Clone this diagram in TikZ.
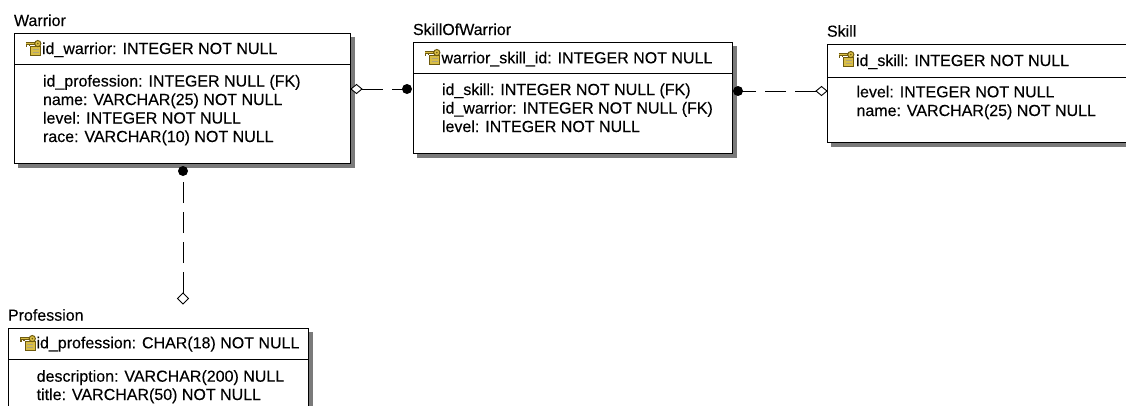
\documentclass[tikz,border=0pt]{standalone}
\usepackage{fontspec}
\setmainfont{Liberation Sans}
\newfontfamily\entfam{Liberation Sans}[FakeBold=0.2]
\definecolor{shadec}{gray}{0.48}
\definecolor{keyy}{HTML}{D9BE45}
\definecolor{keyd}{HTML}{6E5A0E}
\newcommand{\entfont}{\entfam\fontsize{16}{18}\selectfont}
\begin{document}
\begin{tikzpicture}[x=1pt,y=-1pt,
  every node/.style={inner sep=0pt, outer sep=0pt},
  tbl/.style={draw=black, line width=1pt, fill=white, anchor=north west, rectangle},
  ttl/.style={anchor=base west, font=\entfont},
  fld/.style={anchor=base west, font=\entfont},
  conn/.style={line width=1pt, dash pattern=on 21pt off 9pt},
  pkey/.pic={
    \filldraw[fill=keyy, draw=keyd, line width=0.8pt] (5.5,6.5) rectangle (15.5,15);
    \draw[keyd!55, line width=1pt] (7.5,9.5) -- (13.5,9.5) (7.5,12.3) -- (13.5,12.3);
    \draw[keyd, line width=2.4pt] (0.8,3.5) -- (10.5,3.5);
    \draw[keyd, line width=1.6pt] (1.6,3.5) -- (1.6,7.2) (4.3,3.5) -- (4.3,6.3);
    \draw[keyy, line width=0.9pt] (1.2,3.5) -- (10.5,3.5);
    \filldraw[fill=keyy, draw=keyd, line width=1pt] (12.8,3.6) circle (3.1pt);
    \fill[keyd] (12.8,3.6) circle (0.9pt);
  }
]
\useasboundingbox (0,0) rectangle (1126,405);
\begin{scope}
\clip (0,0) rectangle (1126,405);

% shadows
\fill[shadec] (18,37) rectangle (355,168);
\fill[shadec] (417,46) rectangle (737,158);
\fill[shadec] (831,48.5) rectangle (1145,147);
\fill[shadec] (12,332) rectangle (313,440);

% Warrior
\node[ttl] (warriorT) at (14,26) {Warrior};
\node[tbl, minimum width=336pt, minimum height=130pt] (warrior) at (14,33) {};
\draw[line width=1pt] (warrior.west |- 0,64) -- (warrior.east |- 0,64);
\pic at (25,40) {pkey};
\node[fld] (w0) at (42,54) {id\_warrior: INTEGER NOT NULL};
\node[fld] (w1) at (43,86.5) {id\_profession: INTEGER NULL (FK)};
\node[fld] (w2) at (43,105) {name: VARCHAR(25) NOT NULL};
\node[fld] (w3) at (43,123.5) {level: INTEGER NOT NULL};
\node[fld] (w4) at (43,142) {race: VARCHAR(10) NOT NULL};

% SkillOfWarrior
\node[ttl] (sowT) at (413,35) {SkillOfWarrior};
\node[tbl, minimum width=319pt, minimum height=111pt] (sow) at (413,42) {};
\draw[line width=1pt] (sow.west |- 0,73) -- (sow.east |- 0,73);
\pic at (424,49) {pkey};
\node[fld] (s0) at (441.5,63.3) {warrior\_skill\_id: INTEGER NOT NULL};
\node[fld] (s1) at (442,95) {id\_skill: INTEGER NOT NULL (FK)};
\node[fld] (s2) at (442,113.5) {id\_warrior: INTEGER NOT NULL (FK)};
\node[fld] (s3) at (442,132) {level: INTEGER NOT NULL};

% Skill
\node[ttl] (skillT) at (827,36.7) {Skill};
\node[tbl, minimum width=320pt, minimum height=97.5pt] (skill) at (827,44.5) {};
\draw[line width=1pt] (skill.west |- 0,77) -- (skill.east |- 0,77);
\pic at (838,51) {pkey};
\node[fld] (k0) at (856,66) {id\_skill: INTEGER NOT NULL};
\node[fld] (k1) at (856.5,97.3) {level: INTEGER NOT NULL};
\node[fld] (k2) at (856.5,116) {name: VARCHAR(25) NOT NULL};

% Profession
\node[ttl] (profT) at (8,320.7) {Profession};
\node[tbl, minimum width=300pt, minimum height=110pt] (prof) at (8,328) {};
\draw[line width=1pt] (prof.west |- 0,359.3) -- (prof.east |- 0,359.3);
\pic at (19.5,335) {pkey};
\node[fld] (p0) at (36.5,348.3) {id\_profession: CHAR(18) NOT NULL};
\node[fld] (p1) at (36.7,381.7) {description: VARCHAR(200) NULL};
\node[fld] (p2) at (36.7,400) {title: VARCHAR(50) NOT NULL};

% connector endpoints
\coordinate (c1d) at (362,89);
\coordinate (c1e) at (407,89);
\coordinate (c2d) at (816,91);
\coordinate (c2e) at (738,91);
\coordinate (c3d) at (183,293);
\coordinate (c3e) at (183,171);

% connectors
\draw[conn] (c1d) -- (c1e);
\draw[conn] (c2d) -- (c2e);
\draw[conn] (c3d) -- (c3e);

% diamonds (hollow)
\filldraw[fill=white, draw=black, line width=0.9pt]
  (c1d) -- ++(-5.5,-4.5) -- ++(-5.5,4.5) -- ++(5.5,4.5) -- cycle;
\filldraw[fill=white, draw=black, line width=0.9pt]
  (c2d) -- ++(5.5,-4.5) -- ++(5.5,4.5) -- ++(-5.5,4.5) -- cycle;
\filldraw[fill=white, draw=black, line width=0.9pt]
  (c3d) -- ++(-5.5,5.5) -- ++(5.5,5.5) -- ++(5.5,-5.5) -- cycle;

% dots
\fill[black] (c1e) circle (5pt);
\fill[black] (c2e) circle (5pt);
\fill[black] (c3e) circle (5pt);
\end{scope}
\end{tikzpicture}
\end{document}
